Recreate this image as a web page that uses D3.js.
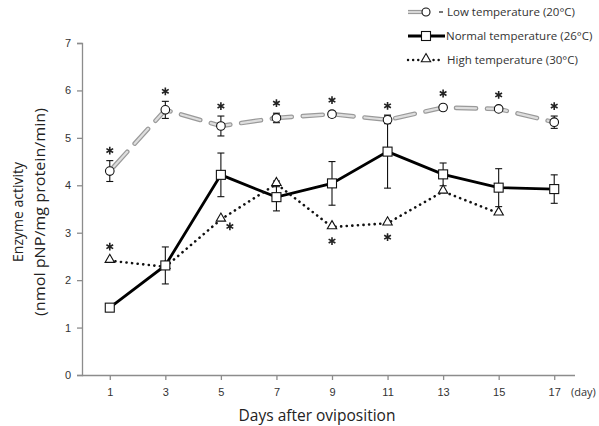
<!DOCTYPE html>
<html>
<head>
<meta charset="utf-8">
<script src="https://cdn.jsdelivr.net/npm/d3@7"></script>
<style>
  body { margin: 0; background: #fff; }
  svg { display: block; font-family: "Open Sans", "Liberation Sans", sans-serif; }
</style>
</head>
<body>
<svg id="chart" width="599" height="426"></svg>
<script>
const days = [1, 3, 5, 7, 9, 11, 13, 15, 17];
const yTicks = [0, 1, 2, 3, 4, 5, 6, 7];

// Low temperature (20°C)
const lowMean = [4.30, 5.59, 5.25, 5.42, 5.50, 5.38, 5.64, 5.61, 5.33];
const lowErr = [0.22, 0.18, 0.21, 0.10, 0.06, 0.08, 0.04, 0.04, 0.13];
const lowStar = ['above', 'above', 'above', 'above', 'above', 'above', 'above', 'above', 'above'];

// Normal temperature (26°C)
const normalMean = [1.42, 2.31, 4.22, 3.75, 4.04, 4.71, 4.23, 3.95, 3.92];
const normalErr = [0, 0.39, 0.46, 0.29, 0.46, 0.77, 0.24, 0.40, 0.30];

// High temperature (30°C) - no measurement on day 17
const highMean = [2.41, 2.28, 3.28, 4.03, 3.12, 3.20, 3.87, 3.41, null];
const highErr = [0, 0, 0, 0.06, 0, 0, 0, 0, 0];
const highStar = ['above', null, 'belowRight', null, 'below', 'below', null, null, null];

const legendLabels = ['Low temperature (20°C)', 'Normal temperature (26°C)', 'High temperature (30°C)'];

const svg = d3.select('#chart');

const x = d3.scalePoint().domain(days).range([82, 582]).padding(0.5);
const y = d3.scaleLinear().domain([0, 7]).range([375, 43]);

const axisColor = '#8c8c8c';
const textColor = '#333';

// Y axis
const yAxis = svg.append('g')
  .attr('transform', 'translate(82,0)')
  .call(d3.axisLeft(y).tickValues(yTicks).tickSize(5).tickPadding(6).tickFormat(d3.format('d')));
yAxis.select('.domain').attr('stroke', axisColor).attr('stroke-width', 1.3);
yAxis.selectAll('.tick line').attr('stroke', axisColor).attr('stroke-width', 1.3);
yAxis.selectAll('.tick text').attr('fill', textColor).attr('font-size', 11);

// X axis
const xAxis = svg.append('g')
  .attr('transform', `translate(0,${y(0)})`)
  .call(d3.axisBottom(x).tickSize(5).tickPadding(8));
xAxis.select('.domain').attr('d', `M82,0.5H575`).attr('stroke', axisColor).attr('stroke-width', 1.3);
xAxis.selectAll('.tick line').attr('stroke', axisColor).attr('stroke-width', 1.3);
xAxis.selectAll('.tick text').attr('fill', textColor).attr('font-size', 11);

svg.append('text')
  .attr('x', 571).attr('y', 396)
  .attr('font-size', 11).attr('fill', textColor)
  .text('(day)');

// Axis titles
svg.append('text')
  .attr('x', 317).attr('y', 421)
  .attr('text-anchor', 'middle')
  .attr('font-size', 15.5).attr('fill', '#222')
  .text('Days after oviposition');

const yTitle = svg.append('text')
  .attr('transform', 'translate(23,212) rotate(-90)')
  .attr('text-anchor', 'middle')
  .attr('font-size', 14).attr('fill', '#222');
yTitle.append('tspan').attr('x', 0).attr('dy', 0).text('Enzyme activity');
yTitle.append('tspan').attr('x', 0).attr('dy', 22)
  .attr('textLength', 208).attr('lengthAdjust', 'spacingAndGlyphs')
  .text('(nmol pNP/mg protein/min)');

const plot = svg.append('g');

function toPoints(means) {
  return days.map((d, i) => ({ day: d, v: means[i], i })).filter(p => p.v !== null);
}

const line = d3.line().x(p => x(p.day)).y(p => y(p.v));

function errorBars(means, errs) {
  const pts = toPoints(means).filter(p => errs[p.i] > 0);
  const g = plot.append('g').attr('stroke', '#111').attr('stroke-width', 1.1);
  pts.forEach(p => {
    const cx = x(p.day);
    const top = y(p.v + errs[p.i]);
    const bot = y(p.v - errs[p.i]);
    g.append('line').attr('x1', cx).attr('x2', cx).attr('y1', top).attr('y2', bot);
    g.append('line').attr('x1', cx - 3.5).attr('x2', cx + 3.5).attr('y1', top).attr('y2', top);
    g.append('line').attr('x1', cx - 3.5).attr('x2', cx + 3.5).attr('y1', bot).attr('y2', bot);
  });
}

// Normal (solid black)
errorBars(normalMean, normalErr);
plot.append('path')
  .datum(toPoints(normalMean))
  .attr('fill', 'none').attr('stroke', '#000').attr('stroke-width', 2.8)
  .attr('d', line);

// High (dotted)
errorBars(highMean, highErr);
plot.append('path')
  .datum(toPoints(highMean))
  .attr('fill', 'none').attr('stroke', '#111').attr('stroke-width', 2.6)
  .attr('stroke-dasharray', '0.1 5.5').attr('stroke-linecap', 'round')
  .attr('d', line);

// Low (gray double-stroke dashes)
errorBars(lowMean, lowErr);
plot.append('path')
  .datum(toPoints(lowMean))
  .attr('fill', 'none').attr('stroke', '#9a9a9a').attr('stroke-width', 4.6)
  .attr('stroke-dasharray', '20 11').attr('stroke-dashoffset', -6).attr('stroke-linecap', 'round')
  .attr('d', line);
plot.append('path')
  .datum(toPoints(lowMean))
  .attr('fill', 'none').attr('stroke', '#dedede').attr('stroke-width', 2.2)
  .attr('stroke-dasharray', '20 11').attr('stroke-dashoffset', -6).attr('stroke-linecap', 'round')
  .attr('d', line);

// Markers
const tri = d3.symbol().type(d3.symbolTriangle).size(38);
plot.append('g').selectAll('path')
  .data(toPoints(highMean))
  .join('path')
  .attr('transform', p => `translate(${x(p.day)},${y(p.v) - 1})`)
  .attr('d', tri)
  .attr('fill', '#fff').attr('stroke', '#111').attr('stroke-width', 1.1);

plot.append('g').selectAll('rect')
  .data(toPoints(normalMean))
  .join('rect')
  .attr('x', p => x(p.day) - 4.5).attr('y', p => y(p.v) - 4.5)
  .attr('width', 9).attr('height', 9)
  .attr('fill', '#fff').attr('stroke', '#111').attr('stroke-width', 1.1);

plot.append('g').selectAll('circle')
  .data(toPoints(lowMean))
  .join('circle')
  .attr('cx', p => x(p.day)).attr('cy', p => y(p.v)).attr('r', 4.3)
  .attr('fill', '#fff').attr('stroke', '#111').attr('stroke-width', 1.1);

// Significance stars (drawn asterisks)
const asterisk = d3.symbol().type(d3.symbolAsterisk).size(42);
function stars(means, errs, flags) {
  toPoints(means).forEach(p => {
    const pos = flags[p.i];
    if (!pos) return;
    const cx = x(p.day);
    let sx = cx, sy;
    if (pos === 'above') {
      sy = Math.min(y(p.v + errs[p.i]), y(p.v) - 4) - 10;
    } else if (pos === 'below') {
      sy = y(p.v) + 14;
    } else {
      sx = cx + 9; sy = y(p.v) + 7;
    }
    plot.append('path')
      .attr('transform', `translate(${sx},${sy})`)
      .attr('d', asterisk)
      .attr('fill', 'none').attr('stroke', '#222').attr('stroke-width', 1.6);
  });
}
stars(lowMean, lowErr, lowStar);
stars(highMean, highErr, highStar);

// Legend
const legend = svg.append('g');
const lx0 = 408, lx1 = 443, lmid = 426;
const rows = [12, 36, 60];

// low
legend.append('line').attr('x1', lx0).attr('x2', lmid).attr('y1', rows[0]).attr('y2', rows[0])
  .attr('stroke', '#9a9a9a').attr('stroke-width', 4.2);
legend.append('line').attr('x1', lx0).attr('x2', lmid).attr('y1', rows[0]).attr('y2', rows[0])
  .attr('stroke', '#dedede').attr('stroke-width', 1.8);
legend.append('line').attr('x1', 439).attr('x2', 443).attr('y1', rows[0]).attr('y2', rows[0])
  .attr('stroke', '#777').attr('stroke-width', 2);
legend.append('circle').attr('cx', lmid).attr('cy', rows[0]).attr('r', 4)
  .attr('fill', '#fff').attr('stroke', '#111').attr('stroke-width', 1.1);

// normal
legend.append('line').attr('x1', lx0).attr('x2', lx1 + 2).attr('y1', rows[1]).attr('y2', rows[1])
  .attr('stroke', '#000').attr('stroke-width', 2.8);
legend.append('rect').attr('x', lmid - 4.5).attr('y', rows[1] - 4.5).attr('width', 9).attr('height', 9)
  .attr('fill', '#fff').attr('stroke', '#111').attr('stroke-width', 1.1);

// high
legend.append('line').attr('x1', lx0).attr('x2', lx1).attr('y1', rows[2]).attr('y2', rows[2])
  .attr('stroke', '#111').attr('stroke-width', 2.4)
  .attr('stroke-dasharray', '0.1 5').attr('stroke-linecap', 'round');
legend.append('path').attr('transform', `translate(${lmid},${rows[2] - 1})`).attr('d', tri)
  .attr('fill', '#fff').attr('stroke', '#111').attr('stroke-width', 1.1);

legend.selectAll('text.lab')
  .data(legendLabels)
  .join('text')
  .attr('class', 'lab')
  .attr('x', (d, i) => i === 1 ? 446 : 447)
  .attr('y', (d, i) => rows[i] + 4)
  .attr('font-size', 11.5).attr('fill', textColor)
  .text(d => d);
</script>
</body>
</html>
